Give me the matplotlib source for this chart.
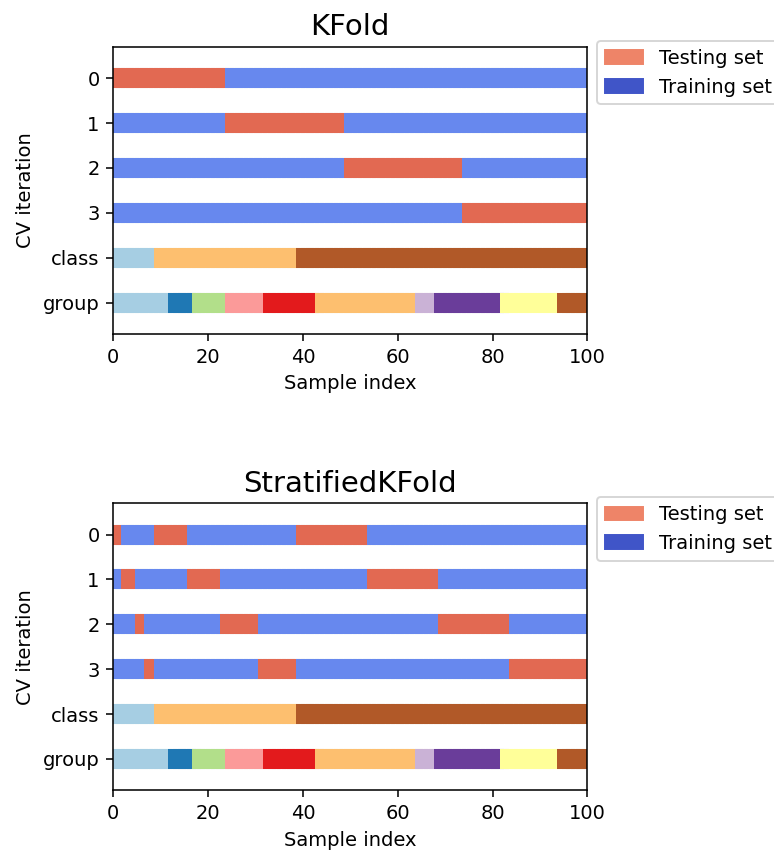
"""交叉验证索引可视化：KFold 与 StratifiedKFold。"""

import numpy as np
import matplotlib
matplotlib.use("Agg")  # 无GUI环境
import matplotlib.pyplot as plt
from matplotlib.patches import Patch

# ============ 数据 ============
N_SAMPLES = 100
CLASS_SIZES = [10, 30, 60]  # 各类别样本数(按顺序排列)
GROUP_SIZES = [13, 5, 7, 8, 11, 21, 4, 14, 12, 5]  # 各分组样本数
KFOLD_TEST_SIZES = [25, 25, 25, 25]  # KFold 每折测试集样本数
# StratifiedKFold 每折中各类别的测试样本数 (行: 折, 列: 类别)
STRAT_TEST_ALLOC = [
    [3, 7, 15],
    [3, 7, 15],
    [2, 8, 15],
    [2, 8, 15],
]
Y_TICK_LABELS = ["0", "1", "2", "3", "class", "group"]
LEGEND_LABELS = ["Testing set", "Training set"]

# ============ 样式常量 ============
DPI = 140
FIG_SIZE = (774 / DPI, 852 / DPI)
LW = 10.3
MARKER_S = 48
cmap_data = plt.cm.Paired
cmap_cv = plt.cm.coolwarm


def kfold_masks():
    """按顺序切分得到每折的测试集掩码。"""
    edges = np.concatenate([[0], np.cumsum(KFOLD_TEST_SIZES)])
    masks = []
    for i in range(len(KFOLD_TEST_SIZES)):
        m = np.zeros(N_SAMPLES)
        m[edges[i]:edges[i + 1]] = 1
        masks.append(m)
    return masks


def stratified_masks():
    """每个类别内部按顺序分配测试样本。"""
    alloc = np.array(STRAT_TEST_ALLOC)
    class_start = np.concatenate([[0], np.cumsum(CLASS_SIZES)[:-1]])
    masks = []
    for i in range(alloc.shape[0]):
        m = np.zeros(N_SAMPLES)
        for k in range(alloc.shape[1]):
            start = class_start[k] + alloc[:i, k].sum()
            m[start:start + alloc[i, k]] = 1
        masks.append(m)
    return masks


def plot_cv_indices(ax, title, masks, classes, groups):
    """画出每折训练/测试样本及类别、分组。"""
    idx = np.arange(N_SAMPLES)
    style = dict(marker="_", lw=LW, s=MARKER_S, capstyle="butt")
    for ii, m in enumerate(masks):
        ax.scatter(idx, [ii + 0.5] * N_SAMPLES, c=m, cmap=cmap_cv,
                   vmin=-0.2, vmax=1.2, **style)
    n = len(masks)
    ax.scatter(idx, [n + 0.5] * N_SAMPLES, c=classes, cmap=cmap_data, **style)
    ax.scatter(idx, [n + 1.5] * N_SAMPLES, c=groups, cmap=cmap_data, **style)

    ax.set(yticks=np.arange(n + 2) + 0.5, yticklabels=Y_TICK_LABELS,
           xlabel="Sample index", ylabel="CV iteration",
           ylim=[n + 2.2, -0.2], xlim=[0, N_SAMPLES])
    ax.set_title(title, fontsize=15)
    ax.legend([Patch(color=cmap_cv(0.8)), Patch(color=cmap_cv(0.02))],
              LEGEND_LABELS, loc=(1.02, 0.8))


if __name__ == "__main__":
    classes = np.repeat(np.arange(len(CLASS_SIZES)), CLASS_SIZES)
    groups = np.repeat(np.arange(len(GROUP_SIZES)), GROUP_SIZES)

    fig = plt.figure(figsize=FIG_SIZE, dpi=DPI)
    ax1 = fig.add_axes([0.1464, 0.608, 0.6124, 0.337])
    ax2 = fig.add_axes([0.1464, 0.0724, 0.6124, 0.337])

    plot_cv_indices(ax1, "KFold", kfold_masks(), classes, groups)
    plot_cv_indices(ax2, "StratifiedKFold", stratified_masks(), classes, groups)

    fig.savefig("out.png", dpi=DPI)
    plt.close(fig)
